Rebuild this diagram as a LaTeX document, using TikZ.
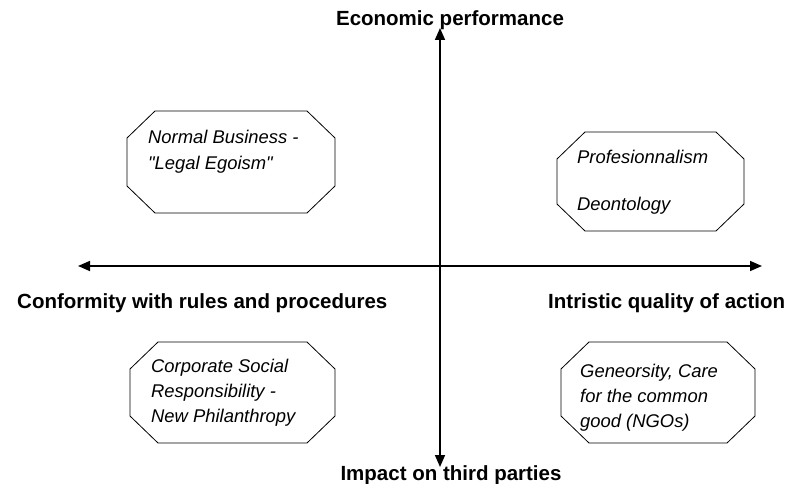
\documentclass[tikz,border=0pt]{standalone}
\usepackage{fontspec}
\setmainfont{Liberation Sans}
\usetikzlibrary{arrows.meta}

% octagon outline round a named box
\newcommand{\octobox}[1]{%
    \draw[line width=0.8pt] ([xshift=28pt]#1.north west) -- ([xshift=-28pt]#1.north east)
        -- ([yshift=-27pt]#1.north east) -- ([yshift=27pt]#1.south east)
        -- ([xshift=-28pt]#1.south east) -- ([xshift=28pt]#1.south west)
        -- ([yshift=27pt]#1.south west) -- ([yshift=-27pt]#1.north west) -- cycle;}

\begin{document}
\begin{tikzpicture}[x=1pt,y=-1pt,
    axis/.style={line width=1.6pt, {Triangle[length=12pt,width=10pt]}-{Triangle[length=12pt,width=10pt]}},
    box/.style={rectangle, inner sep=0pt, outer sep=0pt},
    axlabel/.style={font=\fontsize{20.5}{24}\selectfont\bfseries, inner sep=0pt},
    boxtext/.style={font=\fontsize{18.4}{25}\selectfont\itshape, align=left, inner sep=0pt, anchor=base west}]
    \useasboundingbox (0,0) rectangle (787,484);
    %Axes
    \coordinate (W) at (78,266);
    \coordinate (E) at (762,266);
    \coordinate (N) at (440,28);
    \coordinate (S) at (440,467);
    \draw[axis] (W) -- (E);
    \draw[axis] (S) -- (N);
    %Axis labels
    \node[axlabel, anchor=base] (econ) at (450,26) {Economic performance};
    \node[axlabel, anchor=base] (impact) at (451,480) {Impact on third parties};
    \node[axlabel, anchor=base west] (conf) at (17,308) {Conformity with rules and procedures};
    \node[axlabel, anchor=base west] (qual) at (548,308) {Intristic quality of action};
    %Boxes
    \node[box, minimum width=208pt, minimum height=102pt] (nb) at (231,162) {};
    \node[box, minimum width=187pt, minimum height=99pt] (prof) at (650.5,181.5) {};
    \node[box, minimum width=205pt, minimum height=101pt] (csr) at (232.5,392.5) {};
    \node[box, minimum width=194pt, minimum height=101pt] (gen) at (658,392.5) {};
    \octobox{nb}
    \octobox{prof}
    \octobox{csr}
    \octobox{gen}
    %Box texts
    \node[boxtext] (nbtxt) at ([shift={(21,58)}]nb.west |- nb.north) {Normal Business -\\\textquotedbl Legal Egoism\textquotedbl};
    \node[boxtext] (proftxt) at ([shift={(20,78)}]prof.west |- prof.north) {Profesionnalism\\[22pt]Deontology};
    \node[boxtext] (csrtxt) at ([shift={(21,80)}]csr.west |- csr.north) {Corporate Social\\Responsibility -\\New Philanthropy};
    \node[boxtext] (gentxt) at ([shift={(19,85)}]gen.west |- gen.north) {Geneorsity, Care\\for the common\\good (NGOs)};
\end{tikzpicture}
\end{document}
